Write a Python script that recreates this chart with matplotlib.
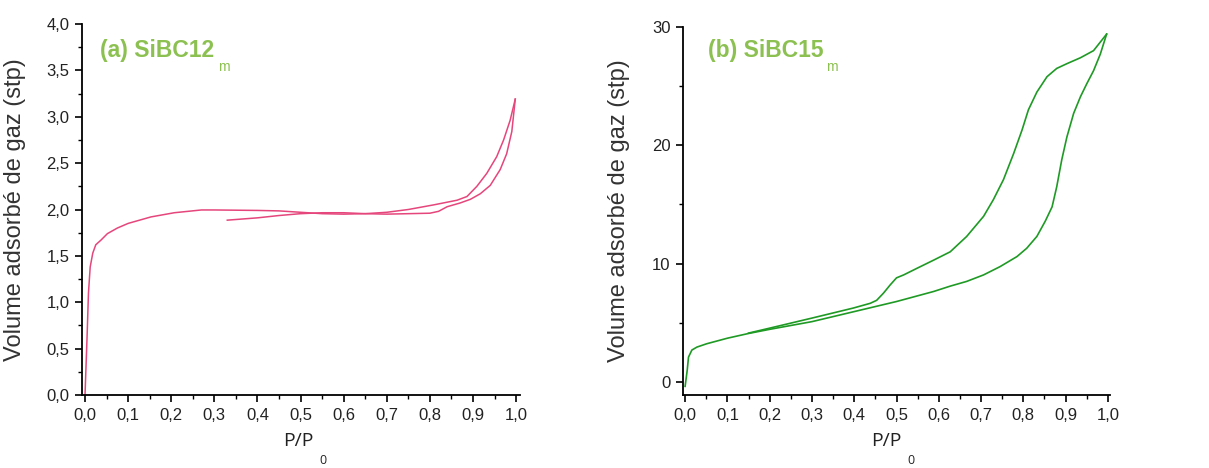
#importing libraries
import matplotlib.pyplot as plt
from matplotlib.ticker import MultipleLocator, FuncFormatter

plt.rcParams['font.family'] = ['Liberation Sans', 'DejaVu Sans']

# (a) SiBC12m - lower start + upper branch
x_a_ads = [0.0, 0.005, 0.008, 0.012, 0.018, 0.025, 0.037, 0.052, 0.075, 0.1, 0.153, 0.207, 0.27,
           0.3, 0.4, 0.45, 0.5, 0.55, 0.6, 0.65, 0.7, 0.75, 0.809, 0.863, 0.886, 0.909, 0.932,
           0.955, 0.971, 0.986, 0.998]
y_a_ads = [0.0, 0.66, 1.10, 1.38, 1.53, 1.62, 1.67, 1.74, 1.80, 1.85, 1.92, 1.965, 1.995,
           1.995, 1.99, 1.985, 1.97, 1.955, 1.95, 1.955, 1.97, 2.0, 2.05, 2.10, 2.14, 2.25, 2.39,
           2.57, 2.75, 2.96, 3.19]
# (a) desorption branch
x_a_des = [0.998, 0.99, 0.978, 0.963, 0.94, 0.917, 0.894, 0.87, 0.84, 0.82, 0.8, 0.75, 0.7,
           0.65, 0.6, 0.55, 0.5, 0.45, 0.4, 0.33]
y_a_des = [3.19, 2.84, 2.6, 2.43, 2.26, 2.17, 2.11, 2.07, 2.03, 1.98, 1.96, 1.955, 1.95,
           1.955, 1.965, 1.965, 1.955, 1.935, 1.91, 1.885]

# (b) SiBC15m - adsorption branch
x_b_ads = [0.0, 0.005, 0.008, 0.016, 0.028, 0.051, 0.1, 0.15, 0.2, 0.3, 0.4, 0.5, 0.588, 0.627,
           0.666, 0.706, 0.745, 0.785, 0.808, 0.832, 0.852, 0.868, 0.879, 0.891, 0.903, 0.919,
           0.935, 0.95, 0.966, 0.982, 0.997]
y_b_ads = [-0.37, 1.0, 2.1, 2.7, 2.95, 3.23, 3.7, 4.1, 4.45, 5.1, 5.95, 6.8, 7.65, 8.1,
           8.5, 9.05, 9.75, 10.6, 11.3, 12.3, 13.6, 14.8, 16.5, 18.8, 20.7, 22.7,
           24.1, 25.2, 26.3, 27.7, 29.4]
# (b) desorption branch
x_b_des = [0.997, 0.966, 0.935, 0.903, 0.879, 0.856, 0.832, 0.812, 0.797, 0.777, 0.753, 0.729,
           0.706, 0.666, 0.627, 0.588, 0.548, 0.517, 0.5, 0.485, 0.469, 0.453, 0.438, 0.398,
           0.3, 0.2, 0.15]
y_b_des = [29.4, 28.0, 27.4, 26.9, 26.5, 25.8, 24.5, 23.0, 21.3, 19.3, 17.1, 15.4,
           14.0, 12.3, 11.0, 10.3, 9.6, 9.05, 8.8, 8.2, 7.5, 6.9, 6.65, 6.25,
           5.4, 4.55, 4.13]

x_ticks = [0.0, 0.1, 0.2, 0.3, 0.4, 0.5, 0.6, 0.7, 0.8, 0.9, 1.0]
y_ticks_a = [0.0, 0.5, 1.0, 1.5, 2.0, 2.5, 3.0, 3.5, 4.0]
y_ticks_b = [0, 10, 20, 30]

PINK = '#e5467c'
GREEN = '#1f9a25'
LABEL_GREEN = '#8cc152'
W, H = 1209, 468


def comma(fmt):
    return FuncFormatter(lambda v, p: (fmt % v).replace('.', ','))


def styleAxes(ax, yticks, yminor, yfmt):
    ax.spines['top'].set_visible(False)
    ax.spines['right'].set_visible(False)
    for s in ['left', 'bottom']:
        ax.spines[s].set_linewidth(1.3)
    ax.set_xticks(x_ticks)
    ax.set_yticks(yticks)
    ax.xaxis.set_minor_locator(MultipleLocator(0.05))
    ax.yaxis.set_minor_locator(MultipleLocator(yminor))
    ax.xaxis.set_major_formatter(comma('%.1f'))
    ax.yaxis.set_major_formatter(comma(yfmt))
    ax.tick_params(which='major', length=5, width=1.2, labelsize=12, pad=4, labelcolor='#222222')
    ax.tick_params(which='minor', length=3, width=1.0)
    ax.set_ylabel('Volume adsorbé de gaz (stp)', fontsize=17, color='#333333')


fig = plt.figure(figsize=(W / 100, H / 100), dpi=100)

# left panel
ax1 = fig.add_axes([82 / W, 1 - 395 / H, (520 - 82) / W, (395 - 24) / H])
ax1.plot(x_a_ads, y_a_ads, color=PINK, lw=1.1)
ax1.plot(x_a_des, y_a_des, color=PINK, lw=1.1)
ax1.set_xlim(-0.007, 1.009)
ax1.set_ylim(0, 4.0)
styleAxes(ax1, y_ticks_a, 0.25, '%.1f')
ax1.yaxis.set_label_coords(-56 / 438, 0.5)

# right panel
ax2 = fig.add_axes([683 / W, 1 - 395 / H, (1110 - 683) / W, (395 - 27) / H])
ax2.plot(x_b_ads, y_b_ads, color=GREEN, lw=1.2)
ax2.plot(x_b_des, y_b_des, color=GREEN, lw=1.2)
ax2.set_xlim(-0.005, 1.005)
ax2.set_ylim(-1.1, 30)
styleAxes(ax2, y_ticks_b, 5, '%d')
ax2.yaxis.set_label_coords(-53 / 427, 0.5)

# panel titles
fig.text(100 / W, 1 - 51 / H, '(a) SiBC12', fontsize=16.5, fontweight='bold', color=LABEL_GREEN, va='center')
fig.text(218 / W, 1 - 67 / H, 'm', fontsize=10, color=LABEL_GREEN, va='center')
fig.text(708 / W, 1 - 51 / H, '(b) SiBC15', fontsize=16.5, fontweight='bold', color=LABEL_GREEN, va='center')
fig.text(826 / W, 1 - 67 / H, 'm', fontsize=10, color=LABEL_GREEN, va='center')

# x labels
for xp in [283, 871]:
    fig.text(xp / W, 1 - 441 / H, 'P/P', fontsize=14, color='#222222', family='Open Sans', va='center')
    fig.text((xp + 36) / W, 1 - 461 / H, '0', fontsize=9, color='#222222', family='Open Sans', va='center')

fig.savefig('out.png', dpi=100)
